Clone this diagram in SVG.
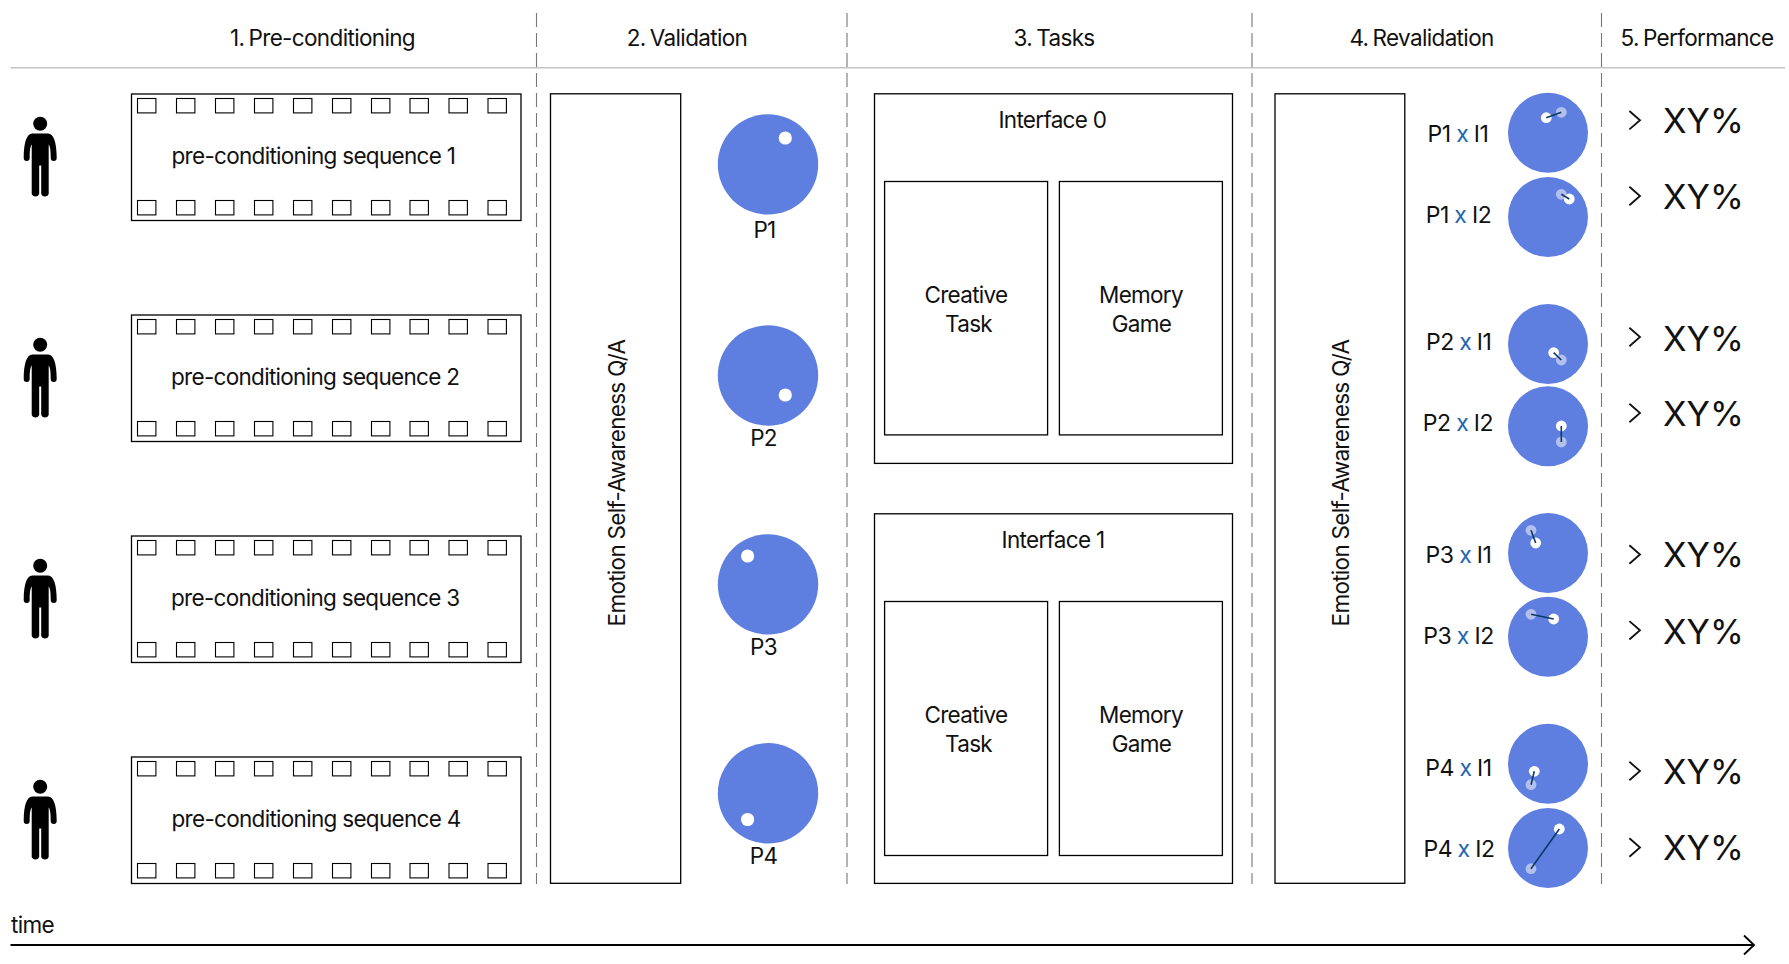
<svg xmlns="http://www.w3.org/2000/svg" xmlns:xlink="http://www.w3.org/1999/xlink" width="1789" height="964" viewBox="0 0 1789 964">
<style>
text{font-family:"Inter","Noto Sans","Liberation Sans",sans-serif;font-size:22.5px;fill:#111;letter-spacing:-.7px}
.m{text-anchor:middle}
.h{word-spacing:-1.5px;letter-spacing:-.65px}
.pl{font-size:23px;letter-spacing:-.45px;word-spacing:-.5px}
.box{fill:#fff;stroke:#000;stroke-width:1.3}
.hole{fill:#fff;stroke:#000;stroke-width:1.1}
.sep{stroke:#777;stroke-width:1.1;stroke-dasharray:14 6;fill:none}
.disc{fill:#5f7fe0}
.w{fill:#fff}
.f{fill:#b3c0ee}
.link{stroke:#0b3a66;stroke-width:1.6}
.xy{font-size:34.5px;letter-spacing:0}
.chev{fill:none;stroke:#111;stroke-width:1.8}
.x{fill:#1f66b0}
</style>
<defs>
<g id="strip"><rect class="hole" x="137.5" width="18.4" height="14.4"/><rect class="hole" x="176.5" width="18.4" height="14.4"/><rect class="hole" x="215.5" width="18.4" height="14.4"/><rect class="hole" x="254.5" width="18.4" height="14.4"/><rect class="hole" x="293.5" width="18.4" height="14.4"/><rect class="hole" x="332.5" width="18.4" height="14.4"/><rect class="hole" x="371.5" width="18.4" height="14.4"/><rect class="hole" x="410" width="18.4" height="14.4"/><rect class="hole" x="449" width="18.4" height="14.4"/><rect class="hole" x="488" width="18.4" height="14.4"/></g>
<g id="film"><rect class="box" x="131.5" y="0" width="389.5" height="126.5"/><use xlink:href="#strip" y="4.5"/><use xlink:href="#strip" y="106.5"/></g>
<g id="person"><circle cx="0" cy="-9.8" r="7"/><path d="M-8,0H8C13,0 16.5,8 16.5,24.5a3,3 0 0 1 -6,0C10.5,17 10,13 8.5,11V60.5a4,4 0 0 1 -7.5,0V32H-1V60.5a4,4 0 0 1 -7.5,0V11C-10,13 -10.5,17 -10.5,24.5a3,3 0 0 1 -6,0C-16.5,8 -13,0 -8,0Z"/></g>
<path id="chevron" class="chev" d="M-5.3,-9.2L5.3,0L-5.3,9.2"/>
<marker id="head" markerWidth="14" markerHeight="24" refX="12" refY="12" orient="auto" markerUnits="userSpaceOnUse"><path d="M2,2.5L12,12L2,21.5" fill="none" stroke="#000" stroke-width="1.8"/></marker>
</defs>

<g id="headers">
<text class="m h" x="322.5" y="45.7">1. Pre-conditioning</text>
<text class="m h" x="687" y="45.7">2. Validation</text>
<text class="m h" x="1054" y="45.7">3. Tasks</text>
<text class="m h" x="1421.5" y="45.7">4. Revalidation</text>
<text class="m h" x="1697" y="45.7">5. Performance</text>
</g>

<g id="connectors">
<line x1="10.5" y1="67.8" x2="1785" y2="67.8" stroke="#c4c4c4" stroke-width="1.6"/>
<line class="sep" x1="536.5" y1="13" x2="536.5" y2="884"/>
<line class="sep" x1="847" y1="13" x2="847" y2="884"/>
<line class="sep" x1="1252" y1="13" x2="1252" y2="884"/>
<line class="sep" x1="1601.5" y1="13" x2="1601.5" y2="884"/>
<line x1="10.5" y1="945" x2="1754" y2="945" stroke="#000" stroke-width="1.8" marker-end="url(#head)"/>
</g>

<g id="seq1"><use xlink:href="#person" x="40.2" y="133.5"/><use xlink:href="#film" y="94"/><text x="171.5" y="163.5">pre-conditioning sequence 1</text></g>
<g id="seq2"><use xlink:href="#person" x="40.2" y="354.5"/><use xlink:href="#film" y="315"/><text x="171" y="384.5">pre-conditioning sequence 2</text></g>
<g id="seq3"><use xlink:href="#person" x="40.2" y="575.5"/><use xlink:href="#film" y="536"/><text x="171" y="605.5">pre-conditioning sequence 3</text></g>
<g id="seq4"><use xlink:href="#person" x="40.2" y="796.5"/><use xlink:href="#film" y="757"/><text x="171.5" y="826.5">pre-conditioning sequence 4</text></g>

<g id="validation-qa"><rect class="box" x="550.5" y="93.8" width="130.2" height="789.5"/><text class="m" transform="translate(625,483) rotate(-90)">Emotion Self-Awareness Q/A</text></g>
<g id="p1"><circle class="disc" cx="768" cy="164.4" r="50.2"/><circle class="w" cx="785.3" cy="138" r="6.6"/><text class="m" x="764.5" y="237.5">P1</text></g>
<g id="p2"><circle class="disc" cx="768" cy="375.5" r="50.2"/><circle class="w" cx="785.3" cy="395" r="6.6"/><text class="m" x="763.5" y="446">P2</text></g>
<g id="p3"><circle class="disc" cx="768" cy="584.4" r="50.2"/><circle class="w" cx="747.6" cy="556" r="6.6"/><text class="m" x="763.5" y="655">P3</text></g>
<g id="p4"><circle class="disc" cx="768" cy="793.3" r="50.2"/><circle class="w" cx="747.6" cy="819.5" r="6.6"/><text class="m" x="763.5" y="864">P4</text></g>

<g id="interface0"><rect class="box" x="874.5" y="93.8" width="358" height="369.6"/><text class="m" x="1052.4" y="128">Interface 0</text></g>
<g id="i0-creative"><rect class="box" x="884.6" y="181.5" width="163" height="253.4"/><text class="m" x="966" y="303.2">Creative</text><text class="m" x="968.5" y="332">Task</text></g>
<g id="i0-memory"><rect class="box" x="1059.4" y="181.5" width="163" height="253.4"/><text class="m" x="1141" y="303.2">Memory</text><text class="m" x="1141.4" y="332">Game</text></g>
<g id="interface1"><rect class="box" x="874.5" y="513.8" width="358" height="369.6"/><text class="m" x="1053" y="548">Interface 1</text></g>
<g id="i1-creative"><rect class="box" x="884.6" y="601.5" width="163" height="254"/><text class="m" x="966" y="723.2">Creative</text><text class="m" x="968.5" y="752">Task</text></g>
<g id="i1-memory"><rect class="box" x="1059.4" y="601.5" width="163" height="254"/><text class="m" x="1141" y="723.2">Memory</text><text class="m" x="1141.4" y="752">Game</text></g>

<g id="revalidation-qa"><rect class="box" x="1275" y="93.8" width="129.8" height="789.5"/><text class="m" transform="translate(1349,483) rotate(-90)">Emotion Self-Awareness Q/A</text></g>

<g id="p1i1"><text class="m pl" x="1458" y="141.7">P1 <tspan class="x">x</tspan> I1</text><circle class="disc" cx="1548" cy="132.8" r="40"/><circle class="f" cx="1561.3" cy="112.3" r="5.4"/><circle class="w" cx="1546.3" cy="117.7" r="5.4"/><line class="link" x1="1546.3" y1="117.7" x2="1561.3" y2="112.3"/></g>
<g id="p1i2"><text class="m pl" x="1458.5" y="222.7">P1 <tspan class="x">x</tspan> I2</text><circle class="disc" cx="1548" cy="217" r="40"/><circle class="f" cx="1561.3" cy="194.3" r="5.4"/><circle class="w" cx="1569.3" cy="199" r="5.4"/><line class="link" x1="1569.3" y1="199" x2="1561.3" y2="194.3"/></g>
<g id="p2i1"><text class="m pl" x="1458.7" y="350">P2 <tspan class="x">x</tspan> I1</text><circle class="disc" cx="1548" cy="344" r="40"/><circle class="f" cx="1561.3" cy="360" r="5.4"/><circle class="w" cx="1553.7" cy="352.7" r="5.4"/><line class="link" x1="1553.7" y1="352.7" x2="1561.3" y2="360"/></g>
<g id="p2i2"><text class="m pl" x="1458" y="431">P2 <tspan class="x">x</tspan> I2</text><circle class="disc" cx="1548" cy="426.3" r="40"/><circle class="f" cx="1561.3" cy="442" r="5.4"/><circle class="w" cx="1561.3" cy="426" r="5.4"/><line class="link" x1="1561.3" y1="426" x2="1561.3" y2="442"/></g>
<g id="p3i1"><text class="m pl" x="1458.5" y="563.3">P3 <tspan class="x">x</tspan> I1</text><circle class="disc" cx="1548" cy="553" r="40"/><circle class="f" cx="1531" cy="530.3" r="5.4"/><circle class="w" cx="1535.7" cy="543" r="5.4"/><line class="link" x1="1535.7" y1="543" x2="1531" y2="530.3"/></g>
<g id="p3i2"><text class="m pl" x="1458.5" y="644">P3 <tspan class="x">x</tspan> I2</text><circle class="disc" cx="1548" cy="636.8" r="40"/><circle class="f" cx="1531" cy="614.3" r="5.4"/><circle class="w" cx="1553.7" cy="619" r="5.4"/><line class="link" x1="1553.7" y1="619" x2="1531" y2="614.3"/></g>
<g id="p4i1"><text class="m pl" x="1458.5" y="776">P4 <tspan class="x">x</tspan> I1</text><circle class="disc" cx="1548" cy="763.8" r="40"/><circle class="f" cx="1531" cy="784.7" r="5.4"/><circle class="w" cx="1534.3" cy="771.3" r="5.4"/><line class="link" x1="1534.3" y1="771.3" x2="1531" y2="784.7"/></g>
<g id="p4i2"><text class="m pl" x="1459" y="856.7">P4 <tspan class="x">x</tspan> I2</text><circle class="disc" cx="1548" cy="848" r="40"/><circle class="f" cx="1531" cy="868.7" r="5.4"/><circle class="w" cx="1559.3" cy="829" r="5.4"/><line class="link" x1="1559.3" y1="829" x2="1531" y2="868.7"/></g>

<g id="perf"><use xlink:href="#chevron" x="1634.7" y="120.2"/><text class="m xy" x="1703.5" y="133.3">XY%</text><use xlink:href="#chevron" x="1634.7" y="196"/><text class="m xy" x="1703.5" y="209.3">XY%</text><use xlink:href="#chevron" x="1634.7" y="337"/><text class="m xy" x="1703.5" y="350.7">XY%</text><use xlink:href="#chevron" x="1634.7" y="413"/><text class="m xy" x="1703.5" y="426">XY%</text><use xlink:href="#chevron" x="1634.7" y="554.5"/><text class="m xy" x="1703.5" y="567.3">XY%</text><use xlink:href="#chevron" x="1634.7" y="630.3"/><text class="m xy" x="1703.5" y="644">XY%</text><use xlink:href="#chevron" x="1634.7" y="771"/><text class="m xy" x="1703.5" y="784">XY%</text><use xlink:href="#chevron" x="1634.7" y="847.5"/><text class="m xy" x="1703.5" y="860">XY%</text></g>

<g id="time"><text x="11" y="932.6">time</text></g>
</svg>
